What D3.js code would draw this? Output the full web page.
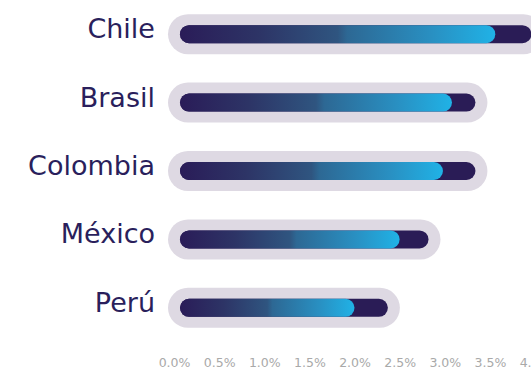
<!DOCTYPE html>
<html>
<head>
<meta charset="utf-8">
<script src="https://cdn.jsdelivr.net/npm/d3@7"></script>
<style>
  html, body { margin: 0; padding: 0; background: #ffffff; }
  svg { display: block; }
</style>
</head>
<body>
<svg id="chart" width="531" height="369"></svg>
<script>
// Country growth rates: current value (gradient bar) and upper reference (dark track)
const countries = ["Chile", "Brasil", "Colombia", "México", "Perú"];
const currentValues = [3.56, 3.08, 2.98, 2.50, 2.00];
const trackValues = [3.96, 3.34, 3.34, 2.82, 2.37];
const tickValues = [0, 0.5, 1, 1.5, 2, 2.5, 3, 3.5, 4];

const svg = d3.select("#chart");

const x = d3.scaleLinear().domain([0, 4]).range([174, 535]);
const y = d3.scaleBand().domain(countries).range([0, 342]);

const barStart = x(0) + 6;
const innerH = 18, pad = 12, outerH = innerH + 2 * 11;
const font = "'DejaVu Sans', Verdana, sans-serif";

const defs = svg.append("defs");
const grad = defs.append("linearGradient")
  .attr("id", "barGrad")
  .attr("x1", "0%").attr("x2", "100%").attr("y1", "0%").attr("y2", "0%");
[
  [0, "#2a1c58"],
  [0.25, "#2d3466"],
  [0.5, "#2f5580"],
  [0.53, "#2d6894"],
  [0.8, "#2990c2"],
  [1, "#20b2e6"]
].forEach(([o, c]) => grad.append("stop").attr("offset", o).attr("stop-color", c));

const rows = countries.map((c, i) => ({ country: c, cur: currentValues[i], track: trackValues[i] }));

const row = svg.append("g").selectAll("g.row").data(rows).join("g")
  .attr("class", "row")
  .attr("transform", d => `translate(0,${y(d.country) + y.bandwidth() / 2})`);

// Outer capsule
row.append("rect")
  .attr("x", barStart - pad)
  .attr("y", -outerH / 2)
  .attr("width", d => x(d.track) - barStart + 2 * pad)
  .attr("height", outerH)
  .attr("rx", outerH / 2)
  .attr("fill", "#ded9e3");

// Dark track
row.append("rect")
  .attr("x", barStart)
  .attr("y", -innerH / 2)
  .attr("width", d => x(d.track) - barStart)
  .attr("height", innerH)
  .attr("rx", innerH / 2)
  .attr("fill", "#2a1c56");

// Gradient value bar
row.append("rect")
  .attr("x", barStart)
  .attr("y", -innerH / 2)
  .attr("width", d => x(d.cur) - barStart)
  .attr("height", innerH)
  .attr("rx", innerH / 2)
  .attr("fill", "url(#barGrad)");

// Country labels
row.append("text")
  .attr("x", 155)
  .attr("y", 4)
  .attr("text-anchor", "end")
  .attr("font-family", font)
  .attr("font-size", 27)
  .attr("fill", "#2a1f5c")
  .text(d => d.country);

// Bottom axis
const axis = d3.axisBottom(x)
  .tickValues(tickValues)
  .tickFormat(d => d3.format(".1f")(d) + "%")
  .tickSize(0)
  .tickPadding(0);

const ax = svg.append("g")
  .attr("transform", "translate(0,358)")
  .call(axis);
ax.select(".domain").remove();
ax.selectAll("text")
  .attr("font-family", font)
  .attr("font-size", 12.5)
  .attr("fill", "#a9a9a9");
</script>
</body>
</html>
